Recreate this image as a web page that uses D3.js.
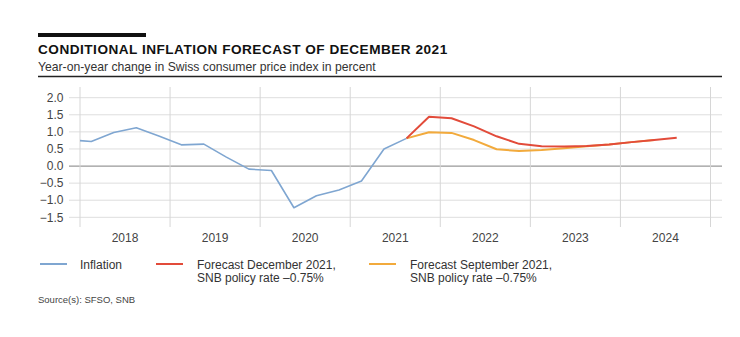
<!DOCTYPE html>
<html>
<head>
<meta charset="utf-8">
<script src="https://cdn.jsdelivr.net/npm/d3@7"></script>
<style>
  body { margin: 0; background: #fff; }
  text { font-family: "Liberation Sans", Arial, sans-serif; }
</style>
</head>
<body>
<svg id="chart" width="740" height="337"></svg>
<script>
// quarterly data, "YYYYQn"
var inflationQuarters = ["2017Q4","2018Q1","2018Q2","2018Q3","2018Q4","2019Q1","2019Q2","2019Q3","2019Q4",
  "2020Q1","2020Q2","2020Q3","2020Q4","2021Q1","2021Q2","2021Q3"];
var inflationValues = [0.77, 0.72, 0.98, 1.12, 0.88, 0.62, 0.64, 0.26, -0.09,
  -0.13, -1.22, -0.87, -0.70, -0.44, 0.50, 0.81];

var decQuarters = ["2021Q3","2021Q4","2022Q1","2022Q2","2022Q3","2022Q4","2023Q1","2023Q2","2023Q3",
  "2023Q4","2024Q1","2024Q2","2024Q3"];
var decValues = [0.81, 1.44, 1.40, 1.16, 0.87, 0.65, 0.58, 0.57, 0.59, 0.63, 0.70, 0.76, 0.83];

var sepQuarters = ["2021Q3","2021Q4","2022Q1","2022Q2","2022Q3","2022Q4","2023Q1","2023Q2","2023Q3",
  "2023Q4","2024Q1","2024Q2"];
var sepValues = [0.81, 0.99, 0.97, 0.76, 0.49, 0.44, 0.47, 0.52, 0.58, 0.63, 0.70, 0.76];

var years = [2018, 2019, 2020, 2021, 2022, 2023, 2024];
var yTicks = [2.0, 1.5, 1.0, 0.5, 0.0, -0.5, -1.0, -1.5];

var series = [
  {name: "Inflation", lines: ["Inflation"], q: inflationQuarters, v: inflationValues, color: "#7fa6d1"},
  {name: "sep", lines: ["Forecast September 2021,", "SNB policy rate \u20130.75%"], q: sepQuarters, v: sepValues, color: "#f2aa3c"},
  {name: "dec", lines: ["Forecast December 2021,", "SNB policy rate \u20130.75%"], q: decQuarters, v: decValues, color: "#e24b3a"}
];

function qpos(s) {
  var y = +s.slice(0, 4), q = +s.slice(5);
  return y + (q - 0.5) / 4;
}

var svg = d3.select("#chart");
var x = d3.scaleLinear().domain([2018, 2025]).range([80, 710.5]);
var y = d3.scaleLinear().domain([-1.5, 2.0]).range([217.3, 97.7]);

// header
svg.append("rect").attr("x", 38).attr("y", 33).attr("width", 108).attr("height", 4).attr("fill", "#111");
svg.append("text").attr("x", 38).attr("y", 54)
  .style("font-size", "13.6px").style("font-weight", "bold").attr("fill", "#111")
  .attr("letter-spacing", "0.5px")
  .text("CONDITIONAL INFLATION FORECAST OF DECEMBER 2021");
svg.append("text").attr("x", 38).attr("y", 71)
  .style("font-size", "12.2px").attr("fill", "#333")
  .text("Year-on-year change in Swiss consumer price index in percent");
svg.append("line").attr("x1", 38).attr("x2", 722).attr("y1", 76.5).attr("y2", 76.5)
  .attr("stroke", "#222").attr("stroke-width", 1.3);

// horizontal grid
var grid = svg.append("g");
grid.selectAll("line.h").data(yTicks).enter().append("line")
  .attr("x1", 69).attr("x2", 722)
  .attr("y1", function(d) { return y(d); }).attr("y2", function(d) { return y(d); })
  .attr("stroke", function(d) { return d === 0 ? "#999" : "#dedede"; })
  .attr("stroke-width", function(d) { return d === 0 ? 1.2 : 1; });

// vertical year separators
var bounds = years.concat([2025]);
grid.selectAll("line.v").data(bounds).enter().append("line")
  .attr("x1", function(d) { return x(d); }).attr("x2", function(d) { return x(d); })
  .attr("y1", 87).attr("y2", 227)
  .attr("stroke", "#d6d6d6").attr("stroke-width", 1);

// y labels
svg.append("g").selectAll("text").data(yTicks).enter().append("text")
  .attr("x", 63.5).attr("y", function(d) { return y(d) + 4.2; })
  .attr("text-anchor", "end").style("font-size", "12px").attr("fill", "#444")
  .text(function(d) { return d < 0 ? "\u2212" + d3.format(".1f")(-d) : d3.format(".1f")(d); });

// x labels
svg.append("g").selectAll("text").data(years).enter().append("text")
  .attr("x", function(d) { return x(d + 0.5); }).attr("y", 242)
  .attr("text-anchor", "middle").style("font-size", "12px").attr("fill", "#444")
  .text(function(d) { return d; });

// lines
svg.append("clipPath").attr("id", "plot").append("rect")
  .attr("x", 80).attr("y", 80).attr("width", 640).attr("height", 150);

var line = d3.line()
  .x(function(d) { return x(qpos(d[0])); })
  .y(function(d) { return y(d[1]); });

svg.append("g").attr("clip-path", "url(#plot)")
  .selectAll("path").data(series).enter().append("path")
  .attr("d", function(s) { return line(d3.zip(s.q, s.v)); })
  .attr("fill", "none").attr("stroke", function(s) { return s.color; })
  .attr("stroke-width", function(s) { return s.name === "Inflation" ? 1.6 : 2; })
  .attr("stroke-linejoin", "round");

// legend
var legendOrder = [series[0], series[2], series[1]];
var legendX = [40, 156, 369];
var lg = svg.append("g").selectAll("g").data(legendOrder).enter().append("g")
  .attr("transform", function(d, i) { return "translate(" + legendX[i] + ",0)"; });
lg.append("line").attr("x1", 0).attr("x2", 27).attr("y1", 264).attr("y2", 264)
  .attr("stroke", function(d) { return d.color; }).attr("stroke-width", 2);
lg.each(function(d) {
  var t = d3.select(this).append("text").style("font-size", "12px").attr("fill", "#333");
  d.lines.forEach(function(l, i) {
    t.append("tspan").attr("x", d.name === "Inflation" ? 40 : 41).attr("y", 268.5 + i * 13).text(l);
  });
});

svg.append("text").attr("x", 38).attr("y", 303)
  .style("font-size", "9.5px").attr("fill", "#444")
  .text("Source(s): SFSO, SNB");
</script>
</body>
</html>
